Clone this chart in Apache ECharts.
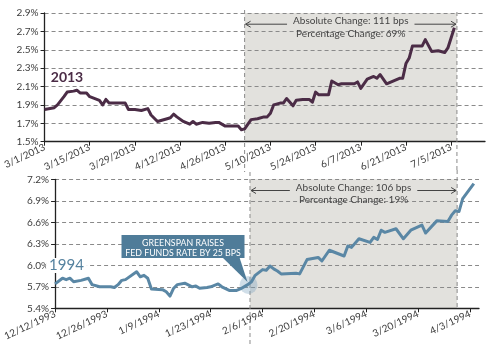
<!DOCTYPE html>
<html><head><meta charset="utf-8">
<script src="https://cdn.jsdelivr.net/npm/echarts@6/dist/echarts.min.js"></script>
<style>html,body{margin:0;padding:0;background:#fff}#c{width:502px;height:344px}</style>
</head><body><div id="c"></div><script>
// ---- data (x = days since the panel's start date) ----
const start2013 = '2013-03-01';
const start1994 = '1993-12-12';
const days2013 = [0,3,4,6,7,9,10,11,13,14,17,18,19,20,22,25,26,28,30,32,33,35,38,39,40,41,43,45,46,47,49,51,53,54,56,59,60,61,62,64,66,68,69,70,71,73,74,75,77,78,80,82,83,84,85,88,89,91,92,96,97,98,100,102,103,104,106,108,110,111,112,113,114,117,118,120,122,124,125,127];
const yields2013 = [1.85,1.87,1.90,1.99,2.04,2.05,2.06,2.03,2.03,1.99,1.95,1.90,1.96,1.92,1.92,1.92,1.85,1.85,1.84,1.86,1.79,1.72,1.75,1.76,1.80,1.77,1.72,1.69,1.72,1.69,1.71,1.70,1.71,1.71,1.67,1.67,1.67,1.63,1.64,1.74,1.75,1.77,1.77,1.81,1.90,1.92,1.92,1.97,1.89,1.95,1.96,1.96,1.93,2.04,2.01,2.01,2.16,2.12,2.13,2.13,2.15,2.08,2.18,2.21,2.19,2.23,2.13,2.16,2.19,2.19,2.35,2.41,2.54,2.54,2.61,2.48,2.49,2.47,2.52,2.74];
const days1994 = [0,2,3,4,5,7,9,10,12,15,16,17,18,19,22,23,24,25,26,29,30,31,32,33,35,37,38,39,41,42,44,45,47,49,50,52,53,54,56,57,58,59,60,61,65,66,68,71,72,74,78,79,80,82,85,86,87,88,89,92,94,96,99,100,103,106,107,108,109,110,111,113];
const yields1994 = [5.74,5.82,5.80,5.82,5.77,5.79,5.82,5.73,5.70,5.70,5.69,5.73,5.79,5.80,5.91,5.84,5.86,5.82,5.67,5.66,5.63,5.57,5.68,5.73,5.75,5.70,5.71,5.68,5.69,5.70,5.74,5.70,5.65,5.65,5.67,5.73,5.77,5.86,5.94,5.93,5.99,5.95,5.92,5.88,5.89,5.88,6.08,6.11,6.06,6.21,6.13,6.27,6.25,6.37,6.32,6.39,6.36,6.49,6.46,6.51,6.37,6.49,6.56,6.45,6.62,6.61,6.70,6.76,6.75,6.93,7.00,7.14];
const xTicks2013 = [0,14,28,42,56,70,84,98,112,126];
const xTicks1994 = [0,14,28,42,56,70,84,98,112];
const yTicks2013 = [1.5,1.7,1.9,2.1,2.3,2.5,2.7,2.9];
const yTicks1994 = [5.4,5.7,6.0,6.3,6.6,6.9,7.2];
const shade2013 = [62, 127.8];
const shade1994 = [52.6, 108.5];
const notes2013 = ['Absolute Change: 111 bps', 'Percentage Change: 69%'];
const notes1994 = ['Absolute Change: 106 bps', 'Percentage Change: 19%'];
const callout = ['GREENSPAN RAISES', 'FED FUNDS RATE BY 25 BPS'];
const calloutPoint = [52.2, 5.74];

const FONT = 'Lato, "Open Sans", sans-serif';
const C2013 = '#4b2c46', C1994 = '#5a87a5', TXT = '#3c3c3c';

function dateLabel(start, d) {
  const t = new Date(start + 'T00:00:00Z');
  t.setUTCDate(t.getUTCDate() + Math.round(d));
  return (t.getUTCMonth() + 1) + '/' + t.getUTCDate() + '/' + t.getUTCFullYear();
}
function zip(a, b) { return a.map((v, i) => [v, b[i]]); }

function xAxisDef(gi, start, ticks, max) {
  return {
    type: 'value', gridIndex: gi, min: 0, max: max,
    splitLine: { show: false },
    axisLine: { lineStyle: { color: '#222', width: 1.3 } },
    axisTick: { customValues: ticks, length: 4, lineStyle: { color: '#222' } },
    axisLabel: { customValues: ticks, rotate: 25, margin: 5, color: TXT, fontSize: 10, fontFamily: FONT,
      formatter: v => dateLabel(start, v) }
  };
}
function yAxisDef(gi, ticks) {
  return {
    type: 'value', gridIndex: gi, min: ticks[0], max: ticks[ticks.length - 1],
    interval: +(ticks[1] - ticks[0]).toFixed(2),
    axisLine: { show: true, lineStyle: { color: '#222', width: 1.3 } },
    axisTick: { show: true, customValues: ticks, length: 4, lineStyle: { color: '#222' } },
    axisLabel: { customValues: ticks, color: TXT, fontSize: 10, fontFamily: FONT, margin: 6,
      formatter: v => v.toFixed(1) + '%' },
    splitLine: { show: true, lineStyle: { color: '#8a8a8a', type: [4, 3], width: 1 } }
  };
}

const chart = echarts.init(document.getElementById('c'), null, { renderer: 'canvas' });
chart.setOption({
  animation: false,
  backgroundColor: '#fff',
  grid: [
    { left: 41, top: 13, width: 444, height: 128.7 },
    { left: 41, top: 179.3, width: 438, height: 129 }
  ],
  xAxis: [xAxisDef(0, start2013, xTicks2013, 136.5), xAxisDef(1, start1994, xTicks1994, 114.4)],
  yAxis: [yAxisDef(0, yTicks2013), yAxisDef(1, yTicks1994)],
  series: [
    { type: 'line', xAxisIndex: 0, yAxisIndex: 0, data: zip(days2013, yields2013), showSymbol: false, z: 3,
      lineStyle: { color: C2013, width: 3, join: 'round' }, itemStyle: { color: C2013 } },
    { type: 'line', xAxisIndex: 1, yAxisIndex: 1, data: zip(days1994, yields1994), showSymbol: false, z: 3,
      lineStyle: { color: C1994, width: 3, join: 'round' }, itemStyle: { color: C1994 } }
  ]
});

// ---- annotations positioned through the axis scales ----
const ctx = document.createElement('canvas').getContext('2d');
function textW(s, size) { ctx.font = size + 'px ' + FONT; return ctx.measureText(s).width; }
const px = (gi, x, y) => chart.convertToPixel({ gridIndex: gi }, [x, y]);
const els = [];
function panel(gi, shade, yT, notes, vTop, vBot) {
  const a = px(gi, shade[0], yT[yT.length - 1]);
  const b = px(gi, shade[1], yT[0]);
  els.push({ type: 'rect', z: -1, shape: { x: a[0], y: a[1], width: b[0] - a[0], height: b[1] - a[1] },
    style: { fill: '#e2e1dd' } });
  [a[0], b[0]].forEach((x, k) => {
    els.push({ type: 'line', z: 1, shape: { x1: x, y1: vTop[k], x2: x, y2: vBot[k] },
      style: { stroke: '#8a8a8a', lineWidth: 1, lineDash: [4, 3] } });
  });
  const cx = (a[0] + b[0]) / 2;
  const ay = a[1] + 11.2;
  const half = textW(notes[0], 10) / 2 + 6;
  els.push({ type: 'line', z: 4, shape: { x1: a[0] + 1, y1: ay, x2: cx - half, y2: ay }, style: { stroke: '#444', lineWidth: 1 } });
  els.push({ type: 'line', z: 4, shape: { x1: cx + half, y1: ay, x2: b[0] - 1, y2: ay }, style: { stroke: '#444', lineWidth: 1 } });
  els.push({ type: 'polyline', z: 4, shape: { points: [[a[0] + 6, ay - 3], [a[0] + 1, ay], [a[0] + 6, ay + 3]] }, style: { stroke: '#444', lineWidth: 1, fill: null } });
  els.push({ type: 'polyline', z: 4, shape: { points: [[b[0] - 6, ay - 3], [b[0] - 1, ay], [b[0] - 6, ay + 3]] }, style: { stroke: '#444', lineWidth: 1, fill: null } });
  els.push({ type: 'text', z: 4, x: cx, y: a[1] + 8, style: { text: notes[0], fill: '#444', font: '10px ' + FONT, align: 'center', verticalAlign: 'middle' } });
  els.push({ type: 'text', z: 4, x: cx, y: a[1] + 20.3, style: { text: notes[1], fill: '#444', font: '10px ' + FONT, align: 'center', verticalAlign: 'middle' } });
}
panel(0, shade2013, yTicks2013, notes2013, [10, 12], [172, 170]);
panel(1, shade1994, yTicks1994, notes1994, [172, 170], [344, 308]);

// series labels
els.push({ type: 'text', z: 5, x: 67, y: 77, style: { text: '2013', fill: C2013, font: 'bold 14px ' + FONT, align: 'center', verticalAlign: 'middle' } });
els.push({ type: 'text', z: 5, x: 66.5, y: 265.5, style: { text: '1994', fill: '#55829f', font: '15px ' + FONT, align: 'center', verticalAlign: 'middle',
  backgroundColor: '#fff', padding: [0, 3] } });

// callout
const p = px(1, calloutPoint[0], calloutPoint[1]);
els.push({ type: 'circle', z: 2, shape: { cx: p[0], cy: p[1] + 1, r: 9 }, style: { fill: 'rgba(120,160,190,0.35)' } });
const bx0 = p[0] - 127, bx1 = p[0] - 4, by0 = p[1] - 49, by1 = p[1] - 26;
els.push({ type: 'rect', z: 6, shape: { x: bx0, y: by0, width: bx1 - bx0, height: by1 - by0 }, style: { fill: '#4f7c99' } });
els.push({ type: 'polygon', z: 6, shape: { points: [[p[0] - 26, by1 - 0.5], [p[0] - 9, by1 - 0.5], [p[0] - 1, p[1] - 2]] }, style: { fill: '#4f7c99' } });
els.push({ type: 'text', z: 7, x: (bx0 + bx1) / 2, y: by0 + 8.5, style: { text: callout[0], fill: '#fff', font: '8.8px ' + FONT, align: 'center', verticalAlign: 'middle' } });
els.push({ type: 'text', z: 7, x: (bx0 + bx1) / 2, y: by0 + 18.3, style: { text: callout[1], fill: '#fff', font: '8.8px ' + FONT, align: 'center', verticalAlign: 'middle' } });

chart.setOption({ graphic: { elements: els } });
</script></body></html>
